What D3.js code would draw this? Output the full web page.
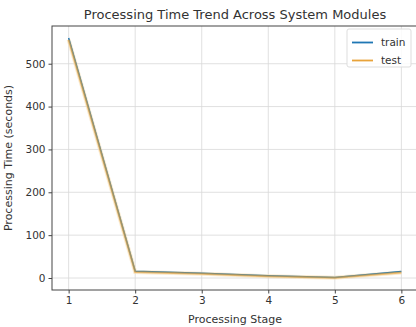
<!DOCTYPE html>
<html><head><meta charset="utf-8">
<script src="https://cdn.jsdelivr.net/npm/d3@7"></script>
<style>body{margin:0;background:#fff;overflow:hidden}text{font-family:"DejaVu Sans",sans-serif;fill:#333}</style>
</head><body>
<svg id="c" width="416" height="327"></svg>
<script>
const stages = [1, 2, 3, 4, 5, 6];
const trainTimes = [560, 16, 11, 5, 1, 15];
const testTimes = [556, 14, 10, 4, 0.5, 13];
const yTicks = [0, 100, 200, 300, 400, 500];
const seriesNames = ["train", "test"];
const seriesColors = ["#1f77b4", "#e8a33a"];

const svg = d3.select("#c");
const L = 52, R = 418, T = 26, B = 290;
const x = d3.scaleLinear().domain([0.75, 6.25]).range([L, R]);
const y = d3.scaleLinear().domain([-28, 588]).range([B, T]);

// grid
svg.append("g").selectAll("line").data(stages).join("line")
  .attr("x1", d => x(d)).attr("x2", d => x(d)).attr("y1", T).attr("y2", B)
  .attr("stroke", "#d8d8d8").attr("stroke-width", 0.8);
svg.append("g").selectAll("line").data(yTicks).join("line")
  .attr("x1", L).attr("x2", R).attr("y1", d => y(d)).attr("y2", d => y(d))
  .attr("stroke", "#d8d8d8").attr("stroke-width", 0.8);

// frame
svg.append("rect").attr("x", L).attr("y", T).attr("width", R - L).attr("height", B - T)
  .attr("fill", "none").attr("stroke", "#444").attr("stroke-width", 1);

// axes
const xa = svg.append("g").attr("transform", `translate(0,${B})`)
  .call(d3.axisBottom(x).tickValues(stages).tickFormat(d3.format("d")).tickSize(3.5).tickPadding(3));
const ya = svg.append("g").attr("transform", `translate(${L},0)`)
  .call(d3.axisLeft(y).tickValues(yTicks).tickSize(3.5).tickPadding(3));
[xa, ya].forEach(a => {
  a.select(".domain").remove();
  a.selectAll(".tick line").attr("stroke", "#444");
  a.selectAll("text").attr("font-size", 10.5).attr("fill", "#333").attr("font-family", "DejaVu Sans");
});

// lines
const line = d3.line().x((d, i) => x(stages[i])).y(d => y(d));
svg.append("path").datum(testTimes).attr("d", line).attr("fill", "none")
  .attr("stroke", "#f6dcae").attr("stroke-width", 4).attr("stroke-opacity", 0.6);
svg.append("path").datum(trainTimes).attr("d", line).attr("fill", "none")
  .attr("stroke", seriesColors[0]).attr("stroke-width", 1.5);
svg.append("path").datum(testTimes).attr("d", line).attr("fill", "none")
  .attr("stroke", seriesColors[1]).attr("stroke-width", 2).attr("stroke-opacity", 0.65);

// title & labels
svg.append("text").attr("x", (L + R) / 2).attr("y", 19).attr("text-anchor", "middle")
  .attr("font-size", 13).text("Processing Time Trend Across System Modules");
svg.append("text").attr("x", (L + R) / 2).attr("y", 323).attr("text-anchor", "middle")
  .attr("font-size", 11).text("Processing Stage");
svg.append("text").attr("transform", `translate(12,${(T + B) / 2}) rotate(-90)`)
  .attr("text-anchor", "middle").attr("font-size", 11).text("Processing Time (seconds)");

// legend
const lg = svg.append("g");
lg.append("rect").attr("x", 347).attr("y", 29).attr("width", 64).attr("height", 38)
  .attr("rx", 2).attr("fill", "#fff").attr("fill-opacity", 0.85).attr("stroke", "#ddd");
seriesNames.forEach((n, i) => {
  const yy = 42.5 + i * 18;
  lg.append("line").attr("x1", 352).attr("x2", 373).attr("y1", yy).attr("y2", yy)
    .attr("stroke", seriesColors[i]).attr("stroke-width", 1.8);
  lg.append("text").attr("x", 381).attr("y", yy + 3.5).attr("font-size", 10.5).text(n);
});
</script>
</body></html>
